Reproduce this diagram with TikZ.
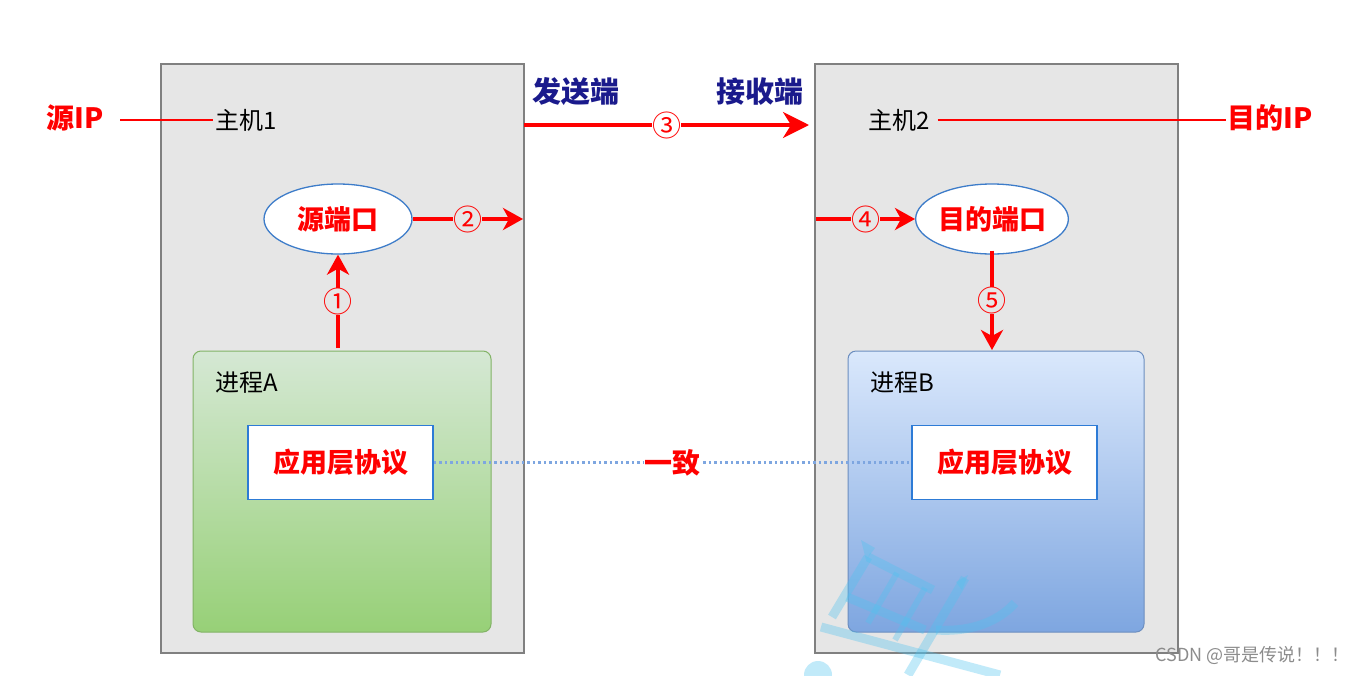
\documentclass[tikz,border=0pt]{standalone}
\usepackage{fontspec}
\setmainfont{Noto Sans CJK SC}
\usetikzlibrary{arrows.meta,shapes.geometric,calc}
\definecolor{hostfill}{HTML}{E6E6E6}
\definecolor{hostline}{HTML}{808080}
\definecolor{ellline}{HTML}{3D7CC9}
\definecolor{boxline}{HTML}{2D7BD6}
\definecolor{navy}{HTML}{1A1A8C}
\definecolor{gtop}{HTML}{D5E8D4}
\definecolor{gbot}{HTML}{97D077}
\definecolor{gline}{HTML}{82B366}
\definecolor{btop}{HTML}{DAE8FC}
\definecolor{bbot}{HTML}{7EA6E0}
\definecolor{bline}{HTML}{6C8EBF}
\definecolor{dotline}{HTML}{7EA6E0}
\definecolor{wm}{HTML}{4FC3F0}
\begin{document}
\begin{tikzpicture}[x=1pt,y=-1pt,
  host/.style={draw=hostline, fill=hostfill, line width=1.3pt, minimum width=363pt, minimum height=589pt, inner sep=0pt},
  bigred/.style={text=red, font=\fontsize{28}{30}\selectfont\bfseries, inner sep=1pt},
  navytext/.style={text=navy, font=\fontsize{29}{30}\selectfont\bfseries, inner sep=1pt},
  plain/.style={text=black, font=\fontsize{24}{26}\selectfont, inner sep=2pt},
  port/.style={ellipse, draw=ellline, fill=white, line width=1.3pt, minimum width=148pt, minimum height=70pt, inner sep=0pt, text=red, font=\fontsize{27}{30}\selectfont\bfseries},
  proto/.style={rectangle, draw=boxline, fill=white, line width=1.5pt, minimum width=185pt, minimum height=74pt, inner sep=0pt, text=red, font=\fontsize{27}{30}\selectfont\bfseries},
  procA/.style={rectangle, rounded corners=8pt, draw=gline, top color=gtop, bottom color=gbot, line width=1pt, minimum width=298pt, minimum height=281pt, inner sep=0pt},
  procB/.style={rectangle, rounded corners=8pt, draw=bline, top color=btop, bottom color=bbot, line width=1pt, minimum width=296pt, minimum height=281pt, inner sep=0pt},
  redarrow/.style={draw=red, line width=3.5pt, -{Stealth[length=20pt,width=22pt,inset=6pt]}},
  bigarrow/.style={draw=red, line width=3.5pt, -{Stealth[length=26pt,width=26pt,inset=8pt]}},
  thinred/.style={draw=red, line width=2.2pt},
  circnum/.style={text=red, fill=hostfill, inner sep=0pt, font=\fontsize{29}{30}\selectfont},
  wmstroke/.style={draw=wm, opacity=0.35, line width=9pt, line cap=butt}
]
\useasboundingbox (0,0) rectangle (1360,675);
\fill[white] (0,0) rectangle (1360,675);

% hosts
\node[host] (host1) at (342.5,358.5) {};
\node[host] (host2) at (996.5,358.5) {};

% host labels and IPs
\node[bigred, anchor=east] (srcip) at (105,118) {源IP};
\node[plain, anchor=west] (h1) at (213,120) {主机1};
\coordinate (l1s) at (120,120);
\draw[thinred] (l1s) -- (h1.west);
\node[plain, anchor=west] (h2) at (866,120) {主机2};
\node[bigred, anchor=west] (dstip) at (1226,118) {目的IP};
\coordinate (l2e) at (1226,120);
\draw[thinred] ([xshift=6pt]h2.east) -- (l2e);

% sender / receiver
\node[navytext] (send) at (576,92) {发送端};
\node[navytext] (recv) at (760,92) {接收端};

% processes
\node[procA] (pA) at (342,491.5) {};
\node[plain, anchor=west] (pAlab) at (213,383) {进程A};
\node[proto] (protoA) at (340.5,462.5) {应用层协议};
\node[procB] (pB) at (996,491.5) {};
\node[plain, anchor=west] (pBlab) at (868,383) {进程B};
\node[proto] (protoB) at (1004.5,462.5) {应用层协议};

% ports
\node[port] (sport) at (338,219) {源端口};
\node[port] (dport) at (992,219) {目的端口};

% arrows
\coordinate (a1s) at (338,348);
\draw[redarrow] (a1s) -- node[circnum]{①} (sport.south);
\coordinate (a2e) at (523,219);
\draw[redarrow] (sport.east) -- node[circnum]{②} (a2e);
\coordinate (a3s) at (524,125);
\coordinate (a3e) at (809,125);
\draw[bigarrow] (a3s) -- node[circnum, fill=white]{③} (a3e);
\coordinate (a4s) at (816,219);
\draw[redarrow] (a4s) -- node[circnum]{④} (dport.west);
\coordinate (a5e) at (992,350);
\draw[redarrow] ([yshift=4pt]dport.south) -- node[circnum]{⑤} (a5e);

% agreement
\draw[draw=dotline, line width=2.5pt, dash pattern=on 2.5pt off 3pt] (protoA.east) -- node[fill=white, inner sep=1pt, text=red, font=\fontsize{28}{30}\selectfont\bfseries]{一致} (protoB.west);

% watermark
\begin{scope}
\draw[wmstroke] (868,557) -- (832,617);
\draw[wmstroke] (868,557) -- (933,590);
\draw[wmstroke] (847,597) -- (925,630);
\draw[wmstroke] (821,627) -- (1000,675);
\draw[wmstroke, line width=6pt] (897,573) -- (868,623);
\draw[wmstroke, line width=6pt] (925,588) -- (895,640);
\draw[wmstroke] (965,578) -- (908,675);
\draw[wmstroke] (1015,603) .. controls (995,625) and (965,632) .. (936,630);
\fill[wm, opacity=0.35] (861,540) -- (875,548) -- (866,560) -- cycle;
\fill[wm, opacity=0.35] (968,575) -- (956,582) -- (962,590) -- cycle;
\fill[wm, opacity=0.35] (818,675) circle (14pt);
\end{scope}
\node[anchor=east, text=black!45, font=\fontsize{18}{20}\selectfont, inner sep=0pt] (csdn) at (1350,655) {CSDN @哥是传说！！！};
\end{tikzpicture}
\end{document}
